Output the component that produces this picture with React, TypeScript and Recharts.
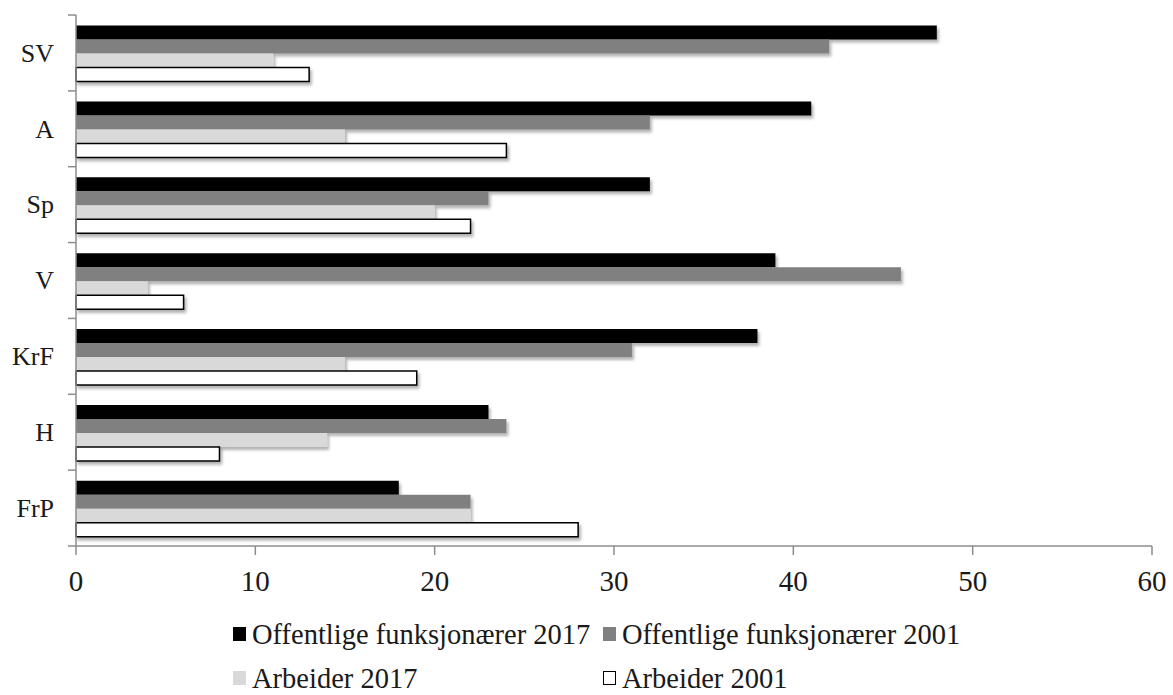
import React from "react";
import { BarChart, Bar, XAxis, YAxis } from "recharts";

const categories = ["SV", "A", "Sp", "V", "KrF", "H", "FrP"];
const off2017 = [48, 41, 32, 39, 38, 23, 18];
const off2001 = [42, 32, 23, 46, 31, 24, 22];
const arb2017 = [11, 15, 20, 4, 15, 14, 22];
const arb2001 = [13, 24, 22, 6, 19, 8, 28];
const seriesNames = [
  "Offentlige funksjonærer 2017",
  "Offentlige funksjonærer 2001",
  "Arbeider 2017",
  "Arbeider 2001",
];
const xTicks = [0, 10, 20, 30, 40, 50, 60];

const data = categories.map((c, i) => ({
  cat: c,
  s0: off2017[i],
  s1: off2001[i],
  s2: arb2017[i],
  s3: arb2001[i],
}));

const W = 1173;
const H = 695;
const M = { top: 15, right: 21, left: 0, bottom: 89 };
const XH = 60;
const YW = 76;
const PLOT_H = H - M.top - M.bottom - XH;
const BAND = PLOT_H / categories.length;
const FONT = "'Liberation Serif', 'DejaVu Serif', serif";
const AXIS = "#8c8c8c";

const fills = ["#000000", "#808080", "#d9d9d9", "#ffffff"];

const YTick = (props: any) => {
  const { x, y, payload, index } = props;
  const axisX = x + 8 + 12;
  const top = y - BAND / 2;
  return (
    <g>
      <line x1={axisX - 8} x2={axisX} y1={top} y2={top} stroke={AXIS} strokeWidth={1.5} />
      {index === categories.length - 1 && (
        <line x1={axisX - 8} x2={axisX} y1={top + BAND} y2={top + BAND} stroke={AXIS} strokeWidth={1.5} />
      )}
      <text x={x - 2} y={y} dy="0.34em" textAnchor="end" fontFamily={FONT} fontSize={26} fill="#1a1a1a">
        {payload.value}
      </text>
    </g>
  );
};

const Swatch = ({ color }: { color: string }) => (
  <span
    style={{
      display: "inline-block",
      width: 13,
      height: 14,
      background: color,
      border: color === "#ffffff" ? "1.3px solid #000" : "none",
      boxSizing: "border-box",
      marginRight: 6,
      verticalAlign: "middle",
      position: "relative",
      top: -3,
    }}
  />
);

export default function App() {
  return (
    <div style={{ position: "absolute", left: 0, top: 0, width: W, height: H, background: "#fff" }}>
      <BarChart
        width={W}
        height={H}
        data={data}
        layout="vertical"
        margin={M}
        barCategoryGap="14%"
        barGap={0}
      >
        <defs>
          <filter id="shadow" x="-5%" y="-30%" width="115%" height="180%">
            <feDropShadow dx="2" dy="3" stdDeviation="1.8" floodColor="#000" floodOpacity="0.3" />
          </filter>
        </defs>
        <XAxis
          type="number"
          domain={[0, 60]}
          ticks={xTicks}
          height={XH}
          stroke={AXIS}
          strokeWidth={1.5}
          tickSize={9}
          tickMargin={15}
          tick={{ fontFamily: FONT, fontSize: 29, fill: "#1a1a1a" }}
          interval={0}
        />
        <YAxis
          type="category"
          dataKey="cat"
          width={YW}
          stroke={AXIS}
          strokeWidth={1.5}
          tickLine={false}
          tickSize={8}
          tickMargin={12}
          tick={<YTick />}
          interval={0}
        />
        <Bar dataKey="s0" name={seriesNames[0]} fill={fills[0]} filter="url(#shadow)" isAnimationActive={false} />
        <Bar dataKey="s1" name={seriesNames[1]} fill={fills[1]} filter="url(#shadow)" isAnimationActive={false} />
        <Bar dataKey="s2" name={seriesNames[2]} fill={fills[2]} filter="url(#shadow)" isAnimationActive={false} />
        <Bar
          dataKey="s3"
          name={seriesNames[3]}
          fill={fills[3]}
          stroke="#000"
          strokeWidth={1.5}
          filter="url(#shadow)"
          isAnimationActive={false}
        />
      </BarChart>
      <div
        style={{
          position: "absolute",
          left: 233,
          top: 613,
          fontFamily: FONT,
          fontSize: 28.5,
          color: "#1a1a1a",
          lineHeight: "44px",
          display: "grid",
          gridTemplateColumns: "370px auto",
          whiteSpace: "nowrap",
        }}
      >
        {seriesNames.map((n, i) => (
          <div key={n}>
            <Swatch color={fills[i]} />
            {n}
          </div>
        ))}
      </div>
    </div>
  );
}
